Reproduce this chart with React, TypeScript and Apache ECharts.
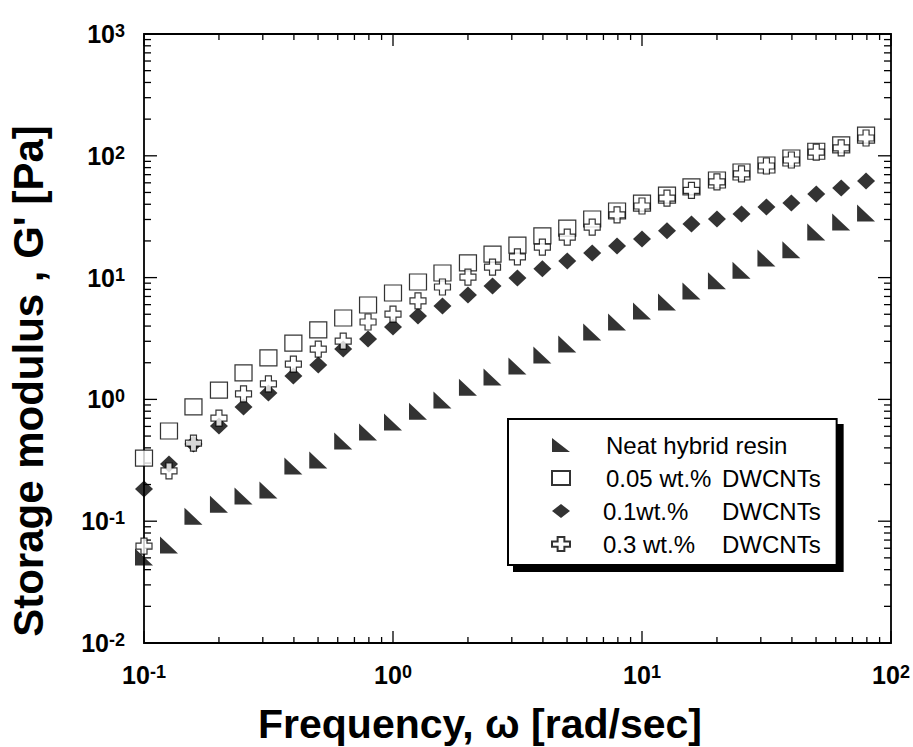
import React, { useEffect, useRef } from "react";
import * as echarts from "echarts";

// Angular frequency (rad/s), 10 points per decade
const freq = [
  0.1, 0.126, 0.158, 0.2, 0.251, 0.316, 0.398, 0.501, 0.631, 0.794,
  1, 1.26, 1.58, 2, 2.51, 3.16, 3.98, 5.01, 6.31, 7.94,
  10, 12.6, 15.8, 20, 25.1, 31.6, 39.8, 50.1, 63.1, 79.4,
];

// Storage modulus G' (Pa)
const neatResin = [
  0.0508, 0.0638, 0.11, 0.138, 0.161, 0.18, 0.284, 0.318, 0.455, 0.54,
  0.652, 0.8, 0.99, 1.26, 1.53, 1.88, 2.32, 2.85, 3.57, 4.32,
  5.32, 6.3, 7.77, 9.4, 11.5, 14.5, 16.9, 23.7, 28.6, 33.9,
];
const dwcnt005 = [
  0.33, 0.55, 0.867, 1.19, 1.65, 2.19, 2.9, 3.72, 4.66, 5.96,
  7.48, 9.2, 10.9, 13.2, 15.6, 18.5, 22.0, 25.5, 30.3, 35.2,
  40.9, 47.6, 55.5, 63.3, 73.6, 84, 96, 109, 123, 148,
];
const dwcnt01 = [
  0.184, 0.295, 0.43, 0.605, 0.867, 1.13, 1.56, 1.92, 2.59, 3.13,
  3.93, 4.84, 5.85, 7.2, 8.53, 9.93, 11.8, 13.7, 15.9, 18.2,
  20.7, 24.2, 27.5, 30.3, 33.3, 38, 40.9, 48.6, 54.5, 62.1,
];
const dwcnt03 = [
  0.0625, 0.259, 0.438, 0.703, 1.11, 1.34, 1.95, 2.59, 3.01, 4.32,
  5.02, 6.43, 8.37, 10.1, 12.2, 14.8, 17.8, 21.5, 26, 32.7,
  38.7, 45, 52, 61, 71, 82.5, 92.4, 107, 116, 140,
];

const seriesNames = [
  "Neat hybrid resin",
  "0.05 wt.% DWCNTs",
  "0.1wt.%    DWCNTs",
  "0.3 wt.%   DWCNTs",
];

// Axis ranges (decade exponents)
const xExp = [-1, 2];
const yExp = [-2, 3];

const FONT = '"Liberation Sans", Arial, Helvetica, sans-serif';

const TRIANGLE = "path://M0,0 L0,16 L17,16 Z";
const PLUS = "path://M5,0 H11 V5 H16 V11 H11 V16 H5 V11 H0 V5 H5 Z";

// Major + minor (2..9) tick positions of a log axis
function logTicks(e0: number, e1: number) {
  const out: number[][] = [];
  for (let e = e0; e <= e1; e++) {
    const d = Math.pow(10, e);
    for (let k = 1; k <= 9; k++) {
      if (e === e1 && k > 1) break;
      out.push([k * d, k === 1 ? 1 : 0]);
    }
  }
  return out;
}

const pow10Label = (v: number) => {
  const e = Math.round(Math.log10(v));
  return `{m|10}{s|${e}}`;
};

const labelRich = {
  m: { fontSize: 25, fontWeight: "bold", fontFamily: FONT, color: "#000", lineHeight: 24 },
  s: { fontSize: 18, fontWeight: "bold", fontFamily: FONT, color: "#000", lineHeight: 12, verticalAlign: "top" },
};

const legendRich = {
  g1: { width: 31 },
  g2: { width: 28 },
  p1: { width: 116, fontSize: 24, fontFamily: FONT, color: "#000", lineHeight: 24 },
  p2: { width: 119, fontSize: 24, fontFamily: FONT, color: "#000", lineHeight: 24 },
  t: { fontSize: 24, fontFamily: FONT, color: "#000", lineHeight: 24 },
};

function legendText(name: string) {
  const idx = seriesNames.indexOf(name);
  if (idx === 0) return `{g1|}{t|${name}}`;
  const parts = name.split(/\s+(?=DWCNTs)/);
  const g = idx === 1 ? "g1" : "g2";
  const p = idx === 1 ? "p1" : "p2";
  return `{${g}|}{${p}|${parts[0].trim()}}{t|DWCNTs}`;
}

export default function App() {
  const ref = useRef<HTMLDivElement>(null);

  useEffect(() => {
    if (!ref.current) return;
    const chart = echarts.init(ref.current, null, { renderer: "svg" });

    const pairs = (ys: number[]) => freq.map((x, i) => [x, ys[i]]);
    const tickStyle = { stroke: "#000", lineWidth: 1.3 };

    const option: any = {
      animation: false,
      backgroundColor: "#fff",
      grid: {
        left: 144,
        top: 34,
        right: 22,
        bottom: 104,
        show: true,
        borderColor: "#000",
        borderWidth: 1.8,
        backgroundColor: "transparent",
      },
      xAxis: {
        type: "log",
        logBase: 10,
        min: Math.pow(10, xExp[0]),
        max: Math.pow(10, xExp[1]),
        axisLine: { show: false },
        axisTick: { show: false },
        splitLine: { show: false },
        axisLabel: {
          margin: 20,
          formatter: pow10Label,
          rich: labelRich,
          showMinLabel: true,
          showMaxLabel: true,
        },
      },
      yAxis: {
        type: "log",
        logBase: 10,
        min: Math.pow(10, yExp[0]),
        max: Math.pow(10, yExp[1]),
        axisLine: { show: false },
        axisTick: { show: false },
        splitLine: { show: false },
        axisLabel: {
          margin: 19,
          formatter: pow10Label,
          rich: labelRich,
          showMinLabel: true,
          showMaxLabel: true,
        },
      },
      legend: {
        data: seriesNames,
        orient: "vertical",
        left: 508,
        top: 419,
        padding: [14, 16, 9, 43],
        itemGap: 9,
        itemWidth: 18,
        itemHeight: 14,
        symbolKeepAspect: false,
        backgroundColor: "#fff",
        borderColor: "#000",
        borderWidth: 2,
        borderRadius: 0,
        shadowColor: "#000",
        shadowBlur: 0,
        shadowOffsetX: 6,
        shadowOffsetY: 6,
        selectedMode: false,
        formatter: legendText,
        textStyle: { fontSize: 24, fontFamily: FONT, color: "#000", rich: legendRich },
      },
      graphic: [
        {
          type: "text",
          x: 480,
          y: 724,
          style: {
            text: "Frequency, \u03c9 [rad/sec]",
            font: `bold 41px ${FONT}`,
            fill: "#000",
            align: "center",
            verticalAlign: "middle",
          },
        },
        {
          type: "text",
          x: 28,
          y: 381,
          rotation: Math.PI / 2,
          style: {
            text: "Storage modulus , G' [Pa]",
            font: `bold 42px ${FONT}`,
            fill: "#000",
            align: "center",
            verticalAlign: "middle",
          },
        },
      ],
      series: [
        {
          type: "custom",
          name: "xticks",
          z: 1,
          silent: true,
          clip: false,
          data: logTicks(xExp[0], xExp[1]).map(([v, m]) => [v, 1, m]),
          renderItem: (params: any, api: any) => {
            const cs = params.coordSys;
            const px = api.coord([api.value(0), 1])[0];
            const len = api.value(2) ? 12 : 6;
            const b = cs.y + cs.height;
            const t = cs.y;
            return {
              type: "group",
              children: [
                { type: "line", shape: { x1: px, y1: b, x2: px, y2: b - len }, style: tickStyle },
                { type: "line", shape: { x1: px, y1: t, x2: px, y2: t + len }, style: tickStyle },
              ],
            };
          },
        },
        {
          type: "custom",
          name: "yticks",
          z: 1,
          silent: true,
          clip: false,
          data: logTicks(yExp[0], yExp[1]).map(([v, m]) => [1, v, m]),
          renderItem: (params: any, api: any) => {
            const cs = params.coordSys;
            const py = api.coord([1, api.value(1)])[1];
            const len = api.value(2) ? 13 : 7;
            const l = cs.x;
            const r = cs.x + cs.width;
            return {
              type: "group",
              children: [
                { type: "line", shape: { x1: l, y1: py, x2: l + len, y2: py }, style: tickStyle },
                { type: "line", shape: { x1: r, y1: py, x2: r - len, y2: py }, style: tickStyle },
              ],
            };
          },
        },
        {
          type: "scatter",
          name: seriesNames[0],
          symbol: TRIANGLE,
          symbolSize: [18, 17],
          clip: false,
          itemStyle: { color: "#000" },
          emphasis: { disabled: true },
          data: pairs(neatResin),
        },
        {
          type: "scatter",
          name: seriesNames[1],
          symbol: "rect",
          symbolSize: [17, 16],
          clip: false,
          itemStyle: { color: "#fff", borderColor: "#000", borderWidth: 1.2 },
          emphasis: { disabled: true },
          data: pairs(dwcnt005),
        },
        {
          type: "scatter",
          name: seriesNames[2],
          symbol: "diamond",
          symbolSize: [18, 17],
          clip: false,
          itemStyle: { color: "#000" },
          emphasis: { disabled: true },
          data: pairs(dwcnt01),
        },
        {
          type: "scatter",
          name: seriesNames[3],
          symbol: PLUS,
          symbolSize: [16, 16],
          clip: false,
          itemStyle: { color: "#fff", borderColor: "#000", borderWidth: 1.2 },
          emphasis: { disabled: true },
          data: pairs(dwcnt03),
        },
      ],
    };

    chart.setOption(option);
    return () => chart.dispose();
  }, []);

  return (
    <div
      ref={ref}
      style={{ position: "absolute", left: 0, top: 0, width: 913, height: 747, background: "#fff" }}
    />
  );
}
